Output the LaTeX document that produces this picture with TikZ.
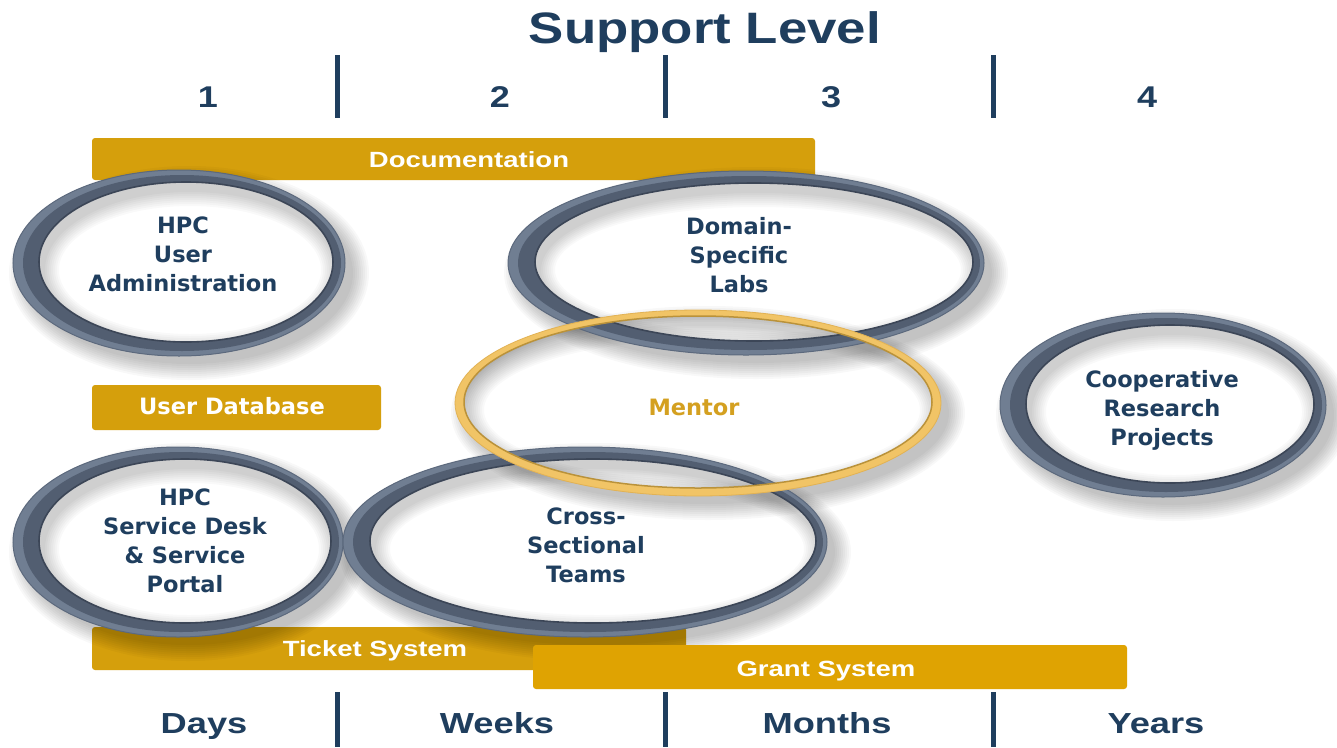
\documentclass[tikz,border=0pt]{standalone}
\usepackage{fontspec}
\setmainfont{DejaVu Sans}
\newfontfamily\condfont{Liberation Sans}
\definecolor{navy}{RGB}{31,62,94}
\definecolor{gold}{RGB}{213,159,12}
\definecolor{goldb}{RGB}{223,163,2}
\definecolor{ringlight}{RGB}{112,126,146}
\definecolor{ringgray}{RGB}{82,94,113}
\definecolor{ringdark}{RGB}{60,70,87}
\definecolor{ringedge}{RGB}{92,105,125}
\definecolor{mentring}{RGB}{241,196,102}
\definecolor{mentdark}{RGB}{186,146,58}
\definecolor{mentedge}{RGB}{226,178,84}
\definecolor{menttext}{RGB}{212,160,32}
\tikzset{
  bar/.style={fill=gold, rounded corners=3pt, inner sep=0pt, draw=none},
  bartext/.style={text=white, font=\condfont\bfseries\fontsize{22}{26}\selectfont, anchor=base, inner sep=0pt},
  dbtext/.style={text=white, font=\bfseries\fontsize{22.5}{29}\selectfont, anchor=base, inner sep=0pt},
  eltext/.style={text=navy, font=\bfseries\fontsize{22.5}{29}\selectfont, align=center, inner sep=0pt},
  headtext/.style={text=navy, font=\condfont\bfseries, anchor=base, inner sep=0pt},
  divider/.style={draw=navy, line width=5pt}
}
\begin{document}
\begin{tikzpicture}[x=1pt,y=-1pt]
\useasboundingbox (0,0) rectangle (1337,747);
\fill[white] (0,0) rectangle (1337,747);

% title and level numbers
\node[headtext, font=\condfont\bfseries\fontsize{44}{50}\selectfont] (title) at (705,43) {\scalebox{1.2}[1]{Support Level}};
\node[headtext, font=\condfont\bfseries\fontsize{30}{34}\selectfont] (n1) at (208,107) {\scalebox{1.2}[1]{1}};
\node[headtext, font=\condfont\bfseries\fontsize{30}{34}\selectfont] (n2) at (500,107) {\scalebox{1.2}[1]{2}};
\node[headtext, font=\condfont\bfseries\fontsize{30}{34}\selectfont] (n3) at (831,107) {\scalebox{1.2}[1]{3}};
\node[headtext, font=\condfont\bfseries\fontsize{30}{34}\selectfont] (n4) at (1147,107) {\scalebox{1.2}[1]{4}};

% dividers
\coordinate (ta1) at (337,55);  \coordinate (tb1) at (337,118);
\coordinate (ta2) at (665,55);  \coordinate (tb2) at (665,118);
\coordinate (ta3) at (993,55);  \coordinate (tb3) at (993,118);
\coordinate (ba1) at (337,692); \coordinate (bb1) at (337,747);
\coordinate (ba2) at (665,692); \coordinate (bb2) at (665,747);
\coordinate (ba3) at (993,692); \coordinate (bb3) at (993,747);
\draw[divider] (ta1) -- (tb1);
\draw[divider] (ta2) -- (tb2);
\draw[divider] (ta3) -- (tb3);
\draw[divider] (ba1) -- (bb1);
\draw[divider] (ba2) -- (bb2);
\draw[divider] (ba3) -- (bb3);

% bars behind the ellipses
\node[bar, minimum width=723pt, minimum height=42pt] (docbar) at (453.5,159) {};
\node[bar, minimum width=289pt, minimum height=45pt] (dbbar) at (236.5,407.5) {};
\node[bar, minimum width=594pt, minimum height=43pt] (ticketbar) at (389,648.5) {};

% soft drop shadows
\foreach \cx/\cy/\rx/\ry/\ix/\iy/\irx/\iry in {179/263/166/93/186/262/147/80, 746/263/238/92/754/262/219/79, 1163/405/163/92/1170/404/144/79, 178/542/165/95/185/541/146/82, 585/542/242/95/593/541/223/82, 698/403/243/93/698/402/234/86}{
  \foreach \k in {1,...,9}{
    \pgfmathsetmacro\sa{\rx+2*\k-4}
    \pgfmathsetmacro\sb{\ry+2*\k-4}
    \fill[black,opacity=0.028,even odd rule] ({\cx+10},{\cy+10}) ellipse [x radius=\sa, y radius=\sb] (\ix,\iy) ellipse [x radius=\irx, y radius=\iry];
  }
}
% inner shading
\foreach \ix/\iy/\irx/\iry in {186/262/147/80, 754/262/219/79, 1170/404/144/79, 185/541/146/82, 593/541/223/82, 698/402/234/86}{
  \begin{scope}
    \clip (\ix,\iy) ellipse [x radius=\irx, y radius=\iry];
    \foreach \k in {1,...,8}{
      \pgfmathsetmacro\sa{\irx-2*\k}
      \pgfmathsetmacro\sb{\iry-2*\k}
      \fill[black,opacity=0.025,even odd rule] ({\ix-400},{\iy-200}) rectangle ({\ix+400},{\iy+200}) ({\ix+4},{\iy+8}) ellipse [x radius=\sa, y radius=\sb];
    }
  \end{scope}
}

% gray rings (two-tone, thicker on the left)
\foreach \cx/\cy/\rx/\ry/\ix/\iy/\irx/\iry in {179/263/166/93/186/262/147/80, 746/263/238/92/754/262/219/79, 1163/405/163/92/1170/404/144/79, 178/542/165/95/185/541/146/82, 585/542/242/95/593/541/223/82}{
  \pgfmathsetmacro\mx{\cx+3}
  \pgfmathsetmacro\mrx{\rx-7}
  \pgfmathsetmacro\mry{\ry-5}
  \fill[ringlight,even odd rule] (\cx,\cy) ellipse [x radius=\rx, y radius=\ry] (\ix,\iy) ellipse [x radius=\irx, y radius=\iry];
  \fill[ringgray,even odd rule] (\mx,\cy) ellipse [x radius=\mrx, y radius=\mry] (\ix,\iy) ellipse [x radius=\irx, y radius=\iry];
  \draw[ringedge,line width=1pt] (\cx,\cy) ellipse [x radius=\rx, y radius=\ry];
  \draw[ringdark,line width=1.6pt] (\ix,\iy) ellipse [x radius=\irx, y radius=\iry];
}
% mentor ring
\fill[mentring,even odd rule] (698,403) ellipse [x radius=243, y radius=93] (698,402) ellipse [x radius=234, y radius=86];
\draw[mentedge,line width=0.8pt] (698,403) ellipse [x radius=243, y radius=93];
\draw[mentdark,line width=1.5pt] (698,402) ellipse [x radius=234, y radius=86];

% grant bar on top
\node[bar, fill=goldb, minimum width=594pt, minimum height=44pt] (grantbar) at (830,667) {};

% bar labels
\node[bartext] (doctext) at (469,167) {\scalebox{1.25}[1]{Documentation}};
\node[dbtext] (dbtext) at (232,414) {User Database};
\node[bartext] (tickettext) at (375,656) {\scalebox{1.25}[1]{Ticket System}};
\node[bartext] (granttext) at (826,676) {\scalebox{1.25}[1]{Grant System}};

% ellipse labels
\node[eltext] (hpcadmin) at (183,254) {HPC\\User\\Administration};
\node[eltext] (domain) at (739,255) {Domain-\\Specific\\Labs};
\node[eltext, text=menttext] (mentor) at (694,407) {Mentor};
\node[eltext] (coop) at (1162,410) {Cooperative\\Research\\Projects};
\node[eltext] (desk) at (185,541) {HPC\\Service Desk\\\& Service\\Portal};
\node[eltext] (cross) at (586,545) {Cross-\\Sectional\\Teams};

% time scale
\node[headtext, font=\condfont\bfseries\fontsize{29}{33}\selectfont] (days) at (204,733) {\scalebox{1.25}[1]{Days}};
\node[headtext, font=\condfont\bfseries\fontsize{29}{33}\selectfont] (weeks) at (497,733) {\scalebox{1.25}[1]{Weeks}};
\node[headtext, font=\condfont\bfseries\fontsize{29}{33}\selectfont] (months) at (827,733) {\scalebox{1.25}[1]{Months}};
\node[headtext, font=\condfont\bfseries\fontsize{29}{33}\selectfont] (years) at (1156,733) {\scalebox{1.25}[1]{Years}};
\end{tikzpicture}
\end{document}
